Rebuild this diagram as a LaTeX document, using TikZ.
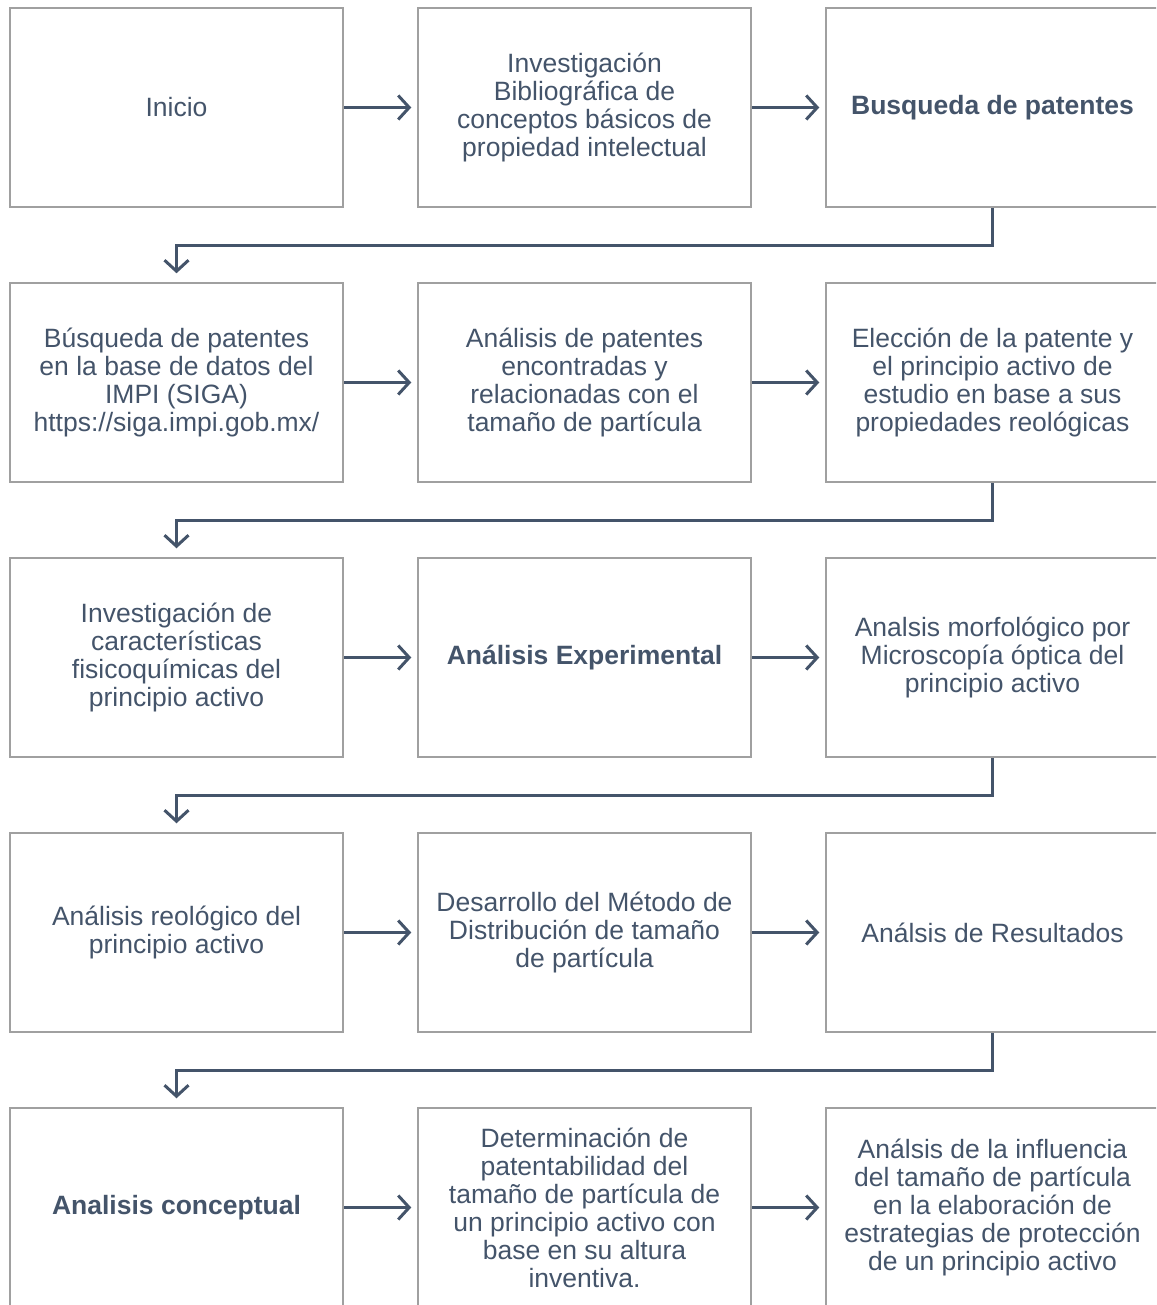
\documentclass[tikz,border=0pt]{standalone}
\usepackage{fontspec}
\setmainfont{Liberation Sans}
\usetikzlibrary{arrows.meta,calc}
\definecolor{ink}{HTML}{44546A}
\definecolor{frame}{HTML}{A0A0A0}
\begin{document}
\begin{tikzpicture}[x=1pt,y=-1pt,
  box/.style={draw=frame,line width=1.5pt,minimum width=333pt,minimum height=199pt,inner sep=0pt,
    align=center,text=ink,font=\fontsize{26.5}{28}\selectfont},
  bbox/.style={box,font=\fontsize{26.5}{28}\selectfont\bfseries},
  arr/.style={draw=ink,line width=3pt,-{Straight Barb[length=11pt,width=24pt,line width=3pt]}}]
\useasboundingbox (0,0) rectangle (1156,1305);
\clip (0,0) rectangle (1156,1305);
\node[box] (b11) at (176.5,107.5) {Inicio};
\node[box] (b12) at (584.5,107.5) {Investigación\\Bibliográfica de\\conceptos básicos de\\propiedad intelectual};
\node[bbox] (b13) at (992.5,107.5) {Busqueda de patentes};
\node[box] (b21) at (176.5,382.5) {Búsqueda de patentes\\en la base de datos del\\IMPI (SIGA)\\https://siga.impi.gob.mx/};
\node[box] (b22) at (584.5,382.5) {Análisis de patentes\\encontradas y\\relacionadas con el\\tamaño de partícula};
\node[box] (b23) at (992.5,382.5) {Elección de la patente y\\el principio activo de\\estudio en base a sus\\propiedades reológicas};
\node[box] (b31) at (176.5,657.5) {Investigación de\\características\\fisicoquímicas del\\principio activo};
\node[bbox] (b32) at (584.5,657.5) {Análisis Experimental};
\node[box] (b33) at (992.5,657.5) {Analsis morfológico por\\Microscopía óptica del\\principio activo};
\node[box] (b41) at (176.5,932.5) {Análisis reológico del\\principio activo};
\node[box] (b42) at (584.5,932.5) {Desarrollo del Método de\\Distribución de tamaño\\de partícula};
\node[box] (b43) at (992.5,932.5) {Análsis de Resultados};
\node[bbox] (b51) at (176.5,1207.5) {Analisis conceptual};
\node[box] (b52) at (584.5,1207.5) {Determinación de\\patentabilidad del\\tamaño de partícula de\\un principio activo con\\base en su altura\\inventiva.};
\node[box] (b53) at (992.5,1207.5) {Análsis de la influencia\\del tamaño de partícula\\en la elaboración de\\estrategias de protección\\de un principio activo};
\foreach \r in {1,...,5}{
  \draw[arr] (b\r1.east) -- ([xshift=-6pt]b\r2.west);
  \draw[arr] (b\r2.east) -- ([xshift=-6pt]b\r3.west);
}
\foreach \r/\n in {1/2,2/3,3/4,4/5}{
  \draw[arr] (b\r3.south) -- ++(0,38) -| ([yshift=9pt]b\n1.north);
}
\end{tikzpicture}
\end{document}
